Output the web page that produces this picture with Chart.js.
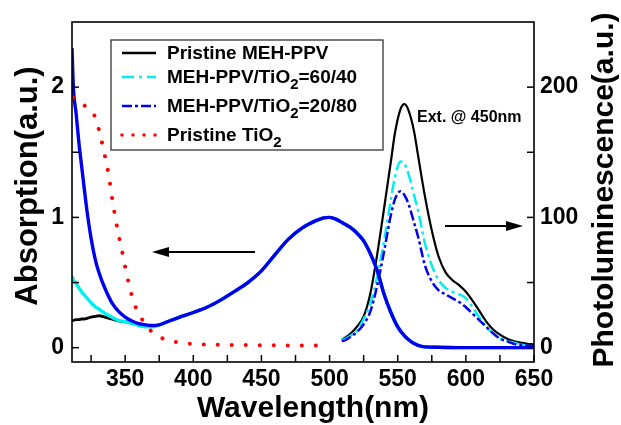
<!DOCTYPE html>
<html><head><meta charset="utf-8">
<script src="https://cdn.jsdelivr.net/npm/chart.js@4/dist/chart.umd.min.js"></script>
<style>html,body{margin:0;padding:0;background:#fff;}canvas{display:block;}</style>
</head><body>
<canvas id="c" width="621" height="425"></canvas>
<script>
// ---- tick labels / names ----
const xTicks = [350, 400, 450, 500, 550, 600, 650];
const yLeftTicks = [0, 1, 2];
const yRightTicks = [0, 100, 200];
const seriesNames = ['Pristine MEH-PPV', 'MEH-PPV/TiO2=60/40', 'MEH-PPV/TiO2=20/80', 'Pristine TiO2'];
const xTitle = 'Wavelength(nm)';
const yLeftTitle = 'Absorption(a.u.)';
const yRightTitle = 'Photoluminescence(a.u.)';
const noteText = 'Ext. @ 450nm';

// ---- absorption (left axis) ----
const absWl   = [311,312,314,316,318,320,322,325,328,331,335,340,345,350,355,360,365,370,375,380,390,400,410,420,430,440,450,460,470,480,490,495,500,505,510,515,520,525,530,535,540,545,550,555,560,565,570,580,600,620,650];
const absMEH  = [0.21,0.21,0.215,0.215,0.22,0.22,0.225,0.235,0.24,0.245,0.235,0.22,0.205,0.2,0.19,0.18,0.17,0.165,0.175,0.195,0.235,0.27,0.31,0.365,0.43,0.5,0.59,0.715,0.835,0.92,0.975,0.995,1.0,0.985,0.955,0.925,0.88,0.82,0.72,0.59,0.41,0.27,0.16,0.09,0.045,0.018,0.006,0.003,0,0,0];
const abs6040 = [0.55,0.52,0.49,0.46,0.43,0.405,0.38,0.345,0.315,0.295,0.265,0.235,0.21,0.2,0.185,0.17,0.16,0.16,0.175,0.195,0.235,0.27,0.31,0.365,0.43,0.5,0.59,0.715,0.835,0.92,0.975,0.995,1.0,0.985,0.955,0.925,0.88,0.82,0.72,0.59,0.41,0.27,0.16,0.09,0.045,0.018,0.006,0.003,0,0,0];
const abs2080 = [2.3,2.0,1.8,1.58,1.4,1.22,1.05,0.84,0.68,0.57,0.46,0.35,0.28,0.235,0.205,0.185,0.175,0.17,0.175,0.195,0.235,0.27,0.31,0.365,0.43,0.5,0.59,0.715,0.835,0.92,0.975,0.995,1.0,0.985,0.955,0.925,0.88,0.82,0.72,0.59,0.41,0.27,0.16,0.09,0.045,0.018,0.006,0.003,0,0,0];
const tio2Wl  = [312,316,320,324,328,332,335,338,341,344,347,350,353,356,359,362,366,370,375,380,390,400,420,440,460,480,495];
const tio2Abs = [1.92,1.89,1.86,1.82,1.77,1.62,1.48,1.32,1.11,0.93,0.78,0.62,0.48,0.36,0.28,0.225,0.16,0.12,0.085,0.06,0.04,0.028,0.022,0.02,0.018,0.017,0.017];

// ---- photoluminescence (right axis) ----
const plWl   = [509,512,515,520,525,530,535,540,545,548,552,555,558,562,565,570,575,580,585,590,595,600,605,610,615,620,625,630,635,640,645,650];
const plMEH  = [6,8,10.5,16,24,42,72,107,143,165,183,187,182,166,147,116,90,70,58,52,48,43,36,28,20,14,10,7,5,4,3,2.5];
const pl6040 = [6,7,9,13,22,34,55,82,114,131,143,141,133,117,105,80,63,52,46,43,41,38,31,23,16,11,7,5,4,2.5,1.5,1];
const pl2080 = [5,6,8,12,18,28,48,74,102,114,120,117,110,96,85,63,51,44,41,38,35,31,26,21,16,11,7,5,3,2,1.5,1];

const FONT = "'Liberation Sans', Arial, sans-serif";
const COLORS = ['#000000', '#00f0f0', '#0000ee', '#ff0000'];
const DASHES = [[], [12, 4, 3, 4], [10, 3, 3, 3], [0.01, 14]];
const LEGEND_DASHES = [[], [12, 5, 3, 5], [10, 3, 3, 3], [0.01, 11]];

const pts = (xs, ys) => xs.map((x, i) => ({x: x, y: ys[i]}));

function ds(data, axis, ci, width, dash) {
  return {
    data: data, yAxisID: axis, borderColor: COLORS[ci], borderWidth: width,
    borderDash: dash || [], pointRadius: 0, fill: false,
    cubicInterpolationMode: 'monotone', borderCapStyle: ci === 3 ? 'round' : 'butt'
  };
}

const datasets = [
  ds(pts(tio2Wl, tio2Abs), 'y', 3, 4, DASHES[3]),
  ds(pts(absWl, abs2080), 'y', 2, 3.4),
  ds(pts(absWl, abs6040), 'y', 1, 3.4),
  ds(pts(absWl, absMEH), 'y', 0, 2.8),
  ds(pts(plWl, pl2080), 'y2', 2, 2.5, DASHES[2]),
  ds(pts(plWl, pl6040), 'y2', 1, 2.5, DASHES[1]),
  ds(pts(plWl, plMEH), 'y2', 0, 2.2)
];

function drawRich(ctx, text, x, y, size) {
  const parts = text.split('TiO2');
  let cx = x;
  parts.forEach((p, i) => {
    ctx.font = 'bold ' + size + 'px ' + FONT;
    ctx.fillText(p, cx, y);
    cx += ctx.measureText(p).width;
    if (i < parts.length - 1) {
      ctx.fillText('TiO', cx, y);
      cx += ctx.measureText('TiO').width;
      ctx.font = 'bold ' + Math.round(size * 0.8) + 'px ' + FONT;
      ctx.fillText('2', cx, y + 6);
      cx += ctx.measureText('2').width;
    }
  });
}

function arrow(ctx, x1, y, x2) {
  const dir = Math.sign(x2 - x1);
  ctx.beginPath();
  ctx.moveTo(x1, y); ctx.lineTo(x2 - dir * 12, y);
  ctx.lineWidth = 2; ctx.strokeStyle = '#000'; ctx.setLineDash([]); ctx.stroke();
  ctx.beginPath();
  ctx.moveTo(x2, y); ctx.lineTo(x2 - dir * 17, y - 5); ctx.lineTo(x2 - dir * 17, y + 5); ctx.closePath();
  ctx.fillStyle = '#000'; ctx.fill();
}

const decor = {
  id: 'decor',
  beforeDraw(chart) {
    const ctx = chart.ctx;
    ctx.save(); ctx.fillStyle = '#fff'; ctx.fillRect(0, 0, chart.width, chart.height); ctx.restore();
  },
  afterDraw(chart) {
    const ctx = chart.ctx, a = chart.chartArea;
    const sx = chart.scales.x, sy = chart.scales.y, sy2 = chart.scales.y2;
    ctx.save();
    ctx.setLineDash([]);
    ctx.strokeStyle = '#000'; ctx.lineWidth = 1.6;
    ctx.strokeRect(a.left, a.top, a.right - a.left, a.bottom - a.top);
    ctx.lineWidth = 1.5;
    const TL = 7;
    for (let v = 325; v <= 650; v += 25) {
      const px = sx.getPixelForValue(v);
      ctx.beginPath(); ctx.moveTo(px, a.bottom); ctx.lineTo(px, a.bottom - TL); ctx.stroke();
    }
    for (let v = 0; v <= 2.0001; v += 0.5) {
      const py = sy.getPixelForValue(v);
      ctx.beginPath(); ctx.moveTo(a.left, py); ctx.lineTo(a.left + TL, py); ctx.stroke();
    }
    for (let v = 0; v <= 200; v += 50) {
      const py = sy2.getPixelForValue(v);
      ctx.beginPath(); ctx.moveTo(a.right, py); ctx.lineTo(a.right - TL, py); ctx.stroke();
    }

    // legend
    ctx.strokeStyle = '#333'; ctx.lineWidth = 1.3;
    ctx.strokeRect(111, 40, 272, 110);
    const rows = [53, 77, 106, 135];
    const base = [59, 83, 112, 141];
    seriesNames.forEach((name, i) => {
      ctx.beginPath();
      ctx.setLineDash(LEGEND_DASHES[i]);
      ctx.lineCap = i === 3 ? 'round' : 'butt';
      ctx.strokeStyle = COLORS[i]; ctx.lineWidth = i === 3 ? 3.5 : 2.5;
      ctx.moveTo(122, rows[i]); ctx.lineTo(156, rows[i]); ctx.stroke();
      ctx.setLineDash([]);
      ctx.fillStyle = '#000'; ctx.textAlign = 'left'; ctx.textBaseline = 'alphabetic';
      drawRich(ctx, name, 167, base[i], 19);
    });
    ctx.lineCap = 'butt';

    // annotation & arrows
    ctx.font = 'bold 16px ' + FONT; ctx.fillStyle = '#000';
    ctx.textAlign = 'left'; ctx.textBaseline = 'alphabetic';
    ctx.fillText(noteText, 417, 122);
    arrow(ctx, 255, 252, 152);
    arrow(ctx, 445, 226, 523);

    // axis titles
    ctx.font = 'bold 30px ' + FONT; ctx.textAlign = 'center';
    ctx.textBaseline = 'alphabetic';
    ctx.fillText(xTitle, 313, 417);
    ctx.font = 'bold 31px ' + FONT;
    ctx.textBaseline = 'middle';
    ctx.save(); ctx.translate(28, 186); ctx.rotate(-Math.PI / 2); ctx.fillText(yLeftTitle, 0, 0); ctx.restore();
    ctx.font = 'bold 30px ' + FONT;
    ctx.save(); ctx.translate(605, 190); ctx.rotate(-Math.PI / 2); ctx.fillText(yRightTitle, 0, 0); ctx.restore();
    ctx.restore();
  }
};

const tickFont = {family: FONT, size: 23, weight: 'bold'};

new Chart(document.getElementById('c'), {
  type: 'line',
  data: {datasets: datasets},
  options: {
    responsive: false, animation: false, events: [],
    layout: {padding: {top: 22, left: 0, right: 0, bottom: 0}},
    plugins: {legend: {display: false}, tooltip: {enabled: false}},
    scales: {
      x: {
        type: 'linear', min: 311, max: 650,
        afterBuildTicks: s => { s.ticks = xTicks.map(v => ({value: v})); },
        afterFit: s => { s.height = 63; },
        grid: {display: false, drawTicks: false}, border: {display: false},
        ticks: {font: tickFont, color: '#000', padding: 4, maxRotation: 0, autoSkip: false}
      },
      y: {
        type: 'linear', position: 'left', min: -0.11, max: 2.5,
        afterBuildTicks: s => { s.ticks = yLeftTicks.map(v => ({value: v})); },
        afterFit: s => { s.width = 72; },
        grid: {display: false, drawTicks: false}, border: {display: false},
        ticks: {font: tickFont, color: '#000', padding: 8}
      },
      y2: {
        type: 'linear', position: 'right', min: -11, max: 250,
        afterBuildTicks: s => { s.ticks = yRightTicks.map(v => ({value: v})); },
        afterFit: s => { s.width = 87; },
        grid: {display: false, drawTicks: false}, border: {display: false},
        ticks: {font: tickFont, color: '#000', padding: 6}
      }
    }
  },
  plugins: [decor]
});
</script>
</body></html>
